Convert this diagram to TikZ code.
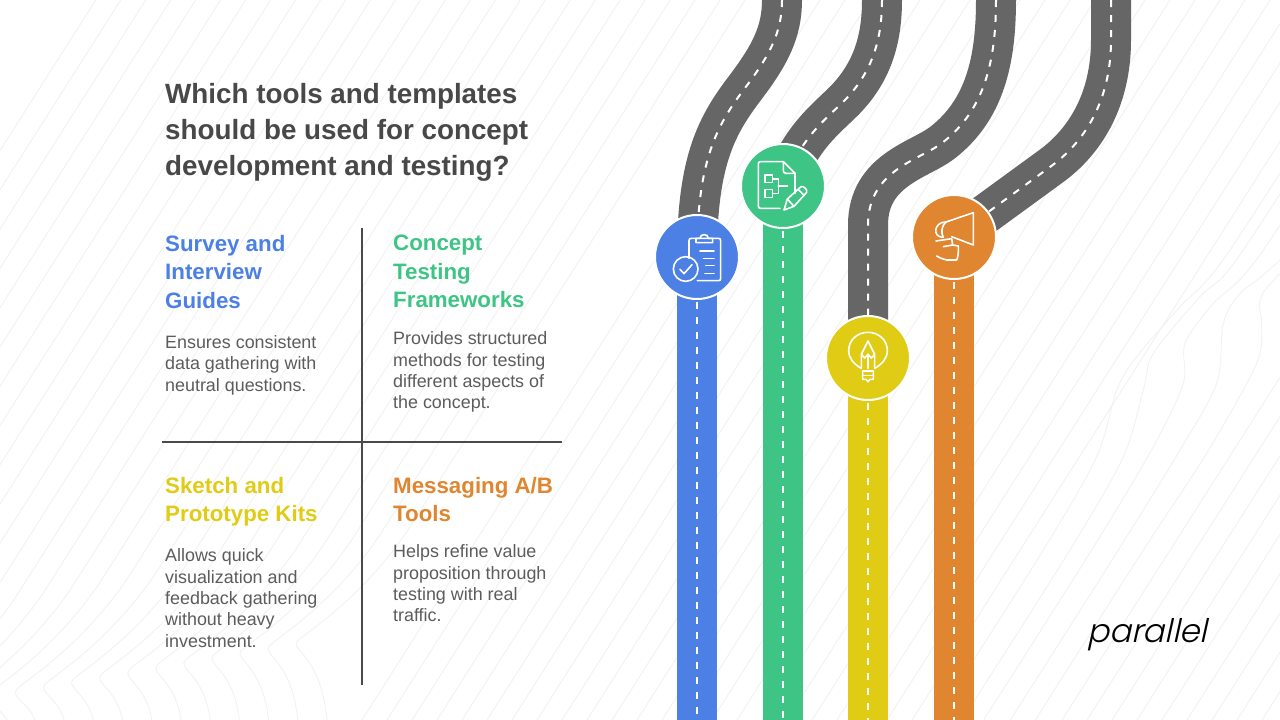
\documentclass[tikz,border=0pt]{standalone}
\usepackage{fontspec}
\setmainfont{Liberation Sans}
\newfontfamily\logof[FakeSlant=0.22,UprightFont={* Light}]{Poppins}
\usetikzlibrary{calc}
\definecolor{cblue}{HTML}{4C80E4}
\definecolor{cgreen}{HTML}{3EC585}
\definecolor{cyellow}{HTML}{E0CC15}
\definecolor{corange}{HTML}{E08530}
\definecolor{croad}{HTML}{666666}
\definecolor{ctitle}{HTML}{484848}
\definecolor{cbody}{HTML}{5C5C5C}
\definecolor{crule}{HTML}{4A4A4A}
\definecolor{cbg}{HTML}{F1F1F1}
\pgfdeclarelayer{bg}
\pgfdeclarelayer{roads}
\pgfsetlayers{bg,roads,main}
\tikzset{
  lane/.style={draw=#1,line width=40pt,line cap=butt,
    postaction={draw=white,line width=2pt,dash pattern=on 7pt off 8pt}},
  hub/.style={circle,fill=#1,draw=white,line width=2pt,minimum size=84pt,inner sep=0pt},
  ttl/.style={anchor=north west,inner sep=0pt,align=left,text=ctitle,font=\fontsize{27.8}{35.6}\selectfont\bfseries},
  head/.style={anchor=north west,inner sep=0pt,align=left,text=#1,font=\fontsize{22.3}{28.4}\selectfont\bfseries},
  bodytext/.style={anchor=north west,inner sep=0pt,align=left,text=cbody,font=\fontsize{17.9}{21.3}\selectfont},
  divider/.style={draw=crule,line width=2pt},
  icon/.style={draw=white,line width=1.6pt,line cap=round,line join=round},
  wave/.style={draw=cbg,line width=0.8pt}
}
\begin{document}
\begin{tikzpicture}[x=1pt,y=-1pt]
\path[use as bounding box] (0,0) rectangle (1280,720);
% background contour lines
\begin{pgfonlayer}{bg}
\fill[white] (0,0) rectangle (1280,720);
\begin{scope}
\clip (0,0) rectangle (1280,720);
\foreach \xa in {362,387,...,912,1062,1087,...,1312}{
  \draw[wave] (\xa,720) -- ({\xa+458},0);
}
\foreach \i in {-16,...,10}{
  \pgfmathsetmacro{\xs}{17+28*\i}
  \pgfmathsetmacro{\ys}{692-0.17*\xs}
  \pgfmathsetmacro{\xb}{\xs+18+1.2*max(\i,0)}
  \pgfmathsetmacro{\xc}{\xs+110}
  \pgfmathsetmacro{\yc}{\ys-110}
  \pgfmathsetmacro{\xt}{\xc+\yc*0.636}
  \draw[wave] (\xb,720) .. controls ({\xb-6},{\ys+14}) and ({\xs-7},{\ys+8}) .. (\xs,\ys)
     .. controls ({\xs+7},{\ys-8}) and ({\xs+62},{\ys-40}) .. (\xc,\yc) -- (\xt,0);
}
\begin{scope}[shift={(1000,250)},scale=1/3]
  \draw[wave] plot[smooth] coordinates {(-194,1410) (130,900) (290,620) (350,420) (410,320) (540,170) (690,0) (1170,-750)};
  \draw[wave] plot[smooth] coordinates {(-114,1410) (210,900) (370,620) (430,420) (460,310) (600,140) (730,0) (1210,-750)};
  \draw[wave] plot[smooth] coordinates {(-49,1410) (275,900) (460,590) (550,400) (555,280) (640,160) (790,0) (1270,-750)};
  \draw[wave] plot[smooth] coordinates {(31,1410) (355,900) (540,600) (650,400) (670,220) (720,130) (840,30) (1400,-500)};
  \draw[wave] plot[smooth] coordinates {(106,1410) (430,900) (620,610) (770,340) (785,220) (780,150) (840,70) (1200,-300)};
\end{scope}
\end{scope}
\end{pgfonlayer}
% hubs
\node[hub=cblue] (c1) at (697,257) {};
\node[hub=cgreen] (c2) at (783,186) {};
\node[hub=cyellow] (c3) at (868,358) {};
\node[hub=corange] (c4) at (954,237) {};
\coordinate (t1) at (782,0);
\coordinate (t2) at (882,0);
\coordinate (t3) at (996,0);
\coordinate (t4) at (1111,0);
\coordinate (b1) at (697,720);
\coordinate (b2) at (783,720);
\coordinate (b3) at (868,720);
\coordinate (b4) at (954,720);
\begin{pgfonlayer}{roads}
\path[lane=croad] (t1) .. controls (782,32) and (770,55) .. (745,88) .. controls (717,125) and (697,160) .. (c1.center);
\path[lane=croad] (t2) .. controls (882,40) and (872,72) .. (845,100) .. controls (825,120) and (800,138) .. (c2.center);
\path[lane=croad] (t3) .. controls (996,60) and (985,110) .. (942,143) .. controls (920,160) and (868,170) .. (868,225) -- (c3.center);
\path[lane=croad] (t4) -- (1111,40) .. controls (1111,100) and (1085,142) .. (1050,167) -- (c4.center);
\path[lane=cblue] (c1.center) -- (b1);
\path[lane=cgreen] (c2.center) -- (b2);
\path[lane=cyellow] (c3.center) -- (b3);
\path[lane=corange] (c4.center) -- (b4);
\end{pgfonlayer}
% icon: clipboard with check
\begin{scope}[shift={(640,130)},scale=1/3]
  \draw[icon] (147,385) -- (147,332) .. controls (147,327) and (149,325) .. (154,325) -- (235,325) .. controls (240,325) and (242,327) .. (242,332) -- (242,445) .. controls (242,450) and (240,452) .. (235,452) -- (172,452);
  \draw[icon] (168,325) -- (168,338) -- (218,338) -- (218,325) -- (205,325) .. controls (205,310) and (180,310) .. (180,325) -- cycle;
  \draw[icon] (137,417) circle (37);
  \draw[icon] (120,418) -- (132,431) -- (156,404);
  \draw[icon] (180,363) -- (222,363);
  \draw[icon] (190,385) -- (222,385);
  \draw[icon] (197,407) -- (222,407);
  \draw[icon] (195,430) -- (222,430);
% icon: document with flowchart and pencil
  \draw[icon] (465,190) -- (465,130) -- (430,95) -- (362,95) .. controls (357,95) and (355,97) .. (355,102) -- (355,228) .. controls (355,233) and (357,235) .. (362,235) -- (420,235);
  \draw[icon] (430,95) -- (430,122) .. controls (430,127) and (433,130) .. (438,130) -- (465,130);
  \draw[icon] (375,135) rectangle (398,158);
  \draw[icon] (375,178) rectangle (398,202);
  \draw[icon] (398,147) -- (415,147) -- (415,190) -- (398,190);
  \draw[icon] (415,168) -- (442,168);
  \draw[icon] (432,240) -- (442,207) -- (483,170) .. controls (490,166) and (504,180) .. (500,187) -- (462,229) -- cycle;
  \draw[icon] (442,207) -- (462,229);
  \draw[icon] (474,178) -- (493,197);
\end{scope}
\begin{scope}[shift={(810,180)},scale=1/3]
% icon: bulb with pencil
  \draw[icon] (154,565) .. controls (132,553) and (116,535) .. (116,512) .. controls (116,480) and (142,457) .. (174,457) .. controls (206,457) and (232,480) .. (232,512) .. controls (232,535) and (216,553) .. (194,565);
  \draw[icon] (154,565) -- (154,523) -- (174,483) -- (194,523) -- (194,565);
  \draw[icon] (154,523) -- (164,534) -- (174,523) -- (184,534) -- (194,523);
  \draw[icon] (174,523) -- (174,565);
  \draw[icon] (158,573) -- (190,573);
  \draw[icon] (158,573) -- (158,598) -- (168,598) -- (174,605) -- (180,598) -- (190,598) -- (190,573);
  \draw[icon] (158,586) -- (190,586);
% icon: megaphone
  \draw[icon] (408,126) -- (490,98) -- (490,195) -- (425,170);
  \draw[icon] (408,126) .. controls (372,125) and (365,172) .. (400,172);
  \draw[icon] (408,126) .. controls (395,135) and (392,160) .. (400,172);
  \draw[icon] (378,183) -- (425,176) -- (428,195) -- (400,200);
  \draw[icon] (445,198) .. controls (446,215) and (444,232) .. (440,240) -- (410,240) .. controls (400,238) and (390,234) .. (380,228);
  \draw[icon] (428,195) -- (445,198);
\end{scope}
% dividers
\coordinate (v1) at (362,228);
\coordinate (v2) at (362,685);
\coordinate (h1) at (162,441.5);
\coordinate (h2) at (562,441.5);
\draw[divider] (v1) -- (v2);
\draw[divider] (h1) -- (h2);
% text
\node[ttl] (title) at (165,83.5) {Which tools and templates\\should be used for concept\\development and testing?};
\node[head=cblue] (h-a) at (165,235) {Survey and\\Interview\\Guides};
\node[bodytext] (b-a) at (165,335.5) {Ensures consistent\\data gathering with\\neutral questions.};
\node[head=cgreen] (h-b) at (393,235) {Concept\\Testing\\Frameworks};
\node[bodytext] (b-b) at (393,331.7) {Provides structured\\methods for testing\\different aspects of\\the concept.};
\node[head=cyellow] (h-c) at (165,477) {Sketch and\\Prototype Kits};
\node[bodytext] (b-c) at (165,548.7) {Allows quick\\visualization and\\feedback gathering\\without heavy\\investment.};
\node[head=corange] (h-d) at (393,477) {Messaging A/B\\Tools};
\node[bodytext] (b-d) at (393,544.7) {Helps refine value\\proposition through\\testing with real\\traffic.};
\node[anchor=base west,inner sep=0pt,text=black,font=\fontsize{32.5}{33}\logof] (logo) at (1087,642) {parallel};
\end{tikzpicture}
\end{document}
